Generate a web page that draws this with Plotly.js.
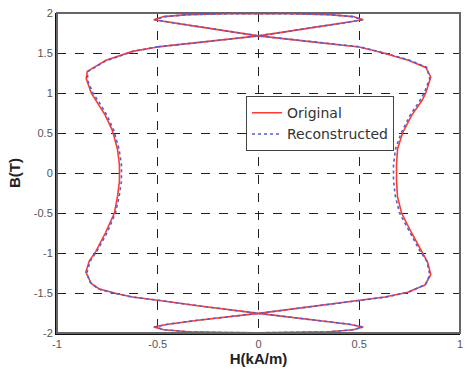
<!DOCTYPE html>
<html>
<head>
<meta charset="utf-8">
<script src="https://cdn.plot.ly/plotly-3.0.1.min.js"></script>
<style>html,body{margin:0;padding:0;background:#fff;}#chart{width:465px;height:371px;}</style>
</head>
<body>
<div id="chart"></div>
<script>
// Original curve (H in kA/m, B in T), closed loop
const origH = [-0.5,-0.625,-0.757,-0.85,-0.855,-0.83,-0.8,-0.76,-0.725,-0.7,-0.69,-0.69,-0.7,-0.715,-0.76,-0.807,-0.84,-0.857,-0.83,-0.79,-0.7,-0.625,-0.5,-0.3,0,0.3,0.45,0.52,0.47,0.35,0.15,0,-0.15,-0.35,-0.47,-0.52,-0.45,-0.3,0,0.3,0.5,0.627,0.74,0.826,0.855,0.84,0.81,0.76,0.71,0.69,0.685,0.685,0.69,0.715,0.76,0.81,0.83,0.855,0.83,0.743,0.62,0.5,0.3,0,-0.3,-0.45,-0.52,-0.47,-0.35,-0.15,0,0.15,0.35,0.47,0.52,0.45,0.3,0,-0.3,-0.5];
const origB = [1.576,1.52,1.41,1.27,1.18,1.0,0.88,0.72,0.53,0.3,0.1,-0.1,-0.3,-0.5,-0.75,-0.98,-1.1,-1.24,-1.38,-1.45,-1.51,-1.55,-1.59,-1.66,-1.755,-1.84,-1.89,-1.925,-1.96,-1.985,-1.995,-1.997,-1.995,-1.985,-1.96,-1.925,-1.89,-1.84,-1.755,-1.66,-1.59,-1.55,-1.49,-1.4,-1.27,-1.12,-0.98,-0.75,-0.5,-0.3,-0.1,0.1,0.3,0.5,0.72,0.9,1.0,1.2,1.32,1.41,1.5,1.576,1.63,1.714,1.83,1.885,1.915,1.955,1.98,1.99,1.992,1.99,1.98,1.955,1.915,1.885,1.83,1.714,1.63,1.576];
// Reconstructed curve
const recH = [-0.5,-0.62,-0.76,-0.845,-0.85,-0.82,-0.79,-0.752,-0.718,-0.692,-0.68,-0.68,-0.692,-0.71,-0.752,-0.8,-0.835,-0.852,-0.835,-0.795,-0.705,-0.63,-0.5,-0.3,0,0.3,0.45,0.515,0.465,0.35,0.15,0,-0.15,-0.35,-0.465,-0.515,-0.45,-0.3,0,0.3,0.5,0.63,0.745,0.83,0.85,0.835,0.8,0.752,0.7,0.68,0.67,0.67,0.68,0.708,0.752,0.8,0.822,0.85,0.835,0.75,0.625,0.5,0.3,0,-0.3,-0.45,-0.515,-0.465,-0.35,-0.15,0,0.15,0.35,0.465,0.515,0.45,0.3,0,-0.3,-0.5];
const recB = [1.578,1.522,1.4,1.27,1.17,0.99,0.88,0.72,0.53,0.3,0.1,-0.1,-0.3,-0.5,-0.75,-0.97,-1.1,-1.25,-1.37,-1.45,-1.51,-1.55,-1.59,-1.66,-1.755,-1.84,-1.89,-1.925,-1.96,-1.985,-1.995,-1.997,-1.995,-1.985,-1.96,-1.925,-1.89,-1.84,-1.755,-1.66,-1.59,-1.552,-1.49,-1.39,-1.27,-1.1,-0.97,-0.75,-0.5,-0.3,-0.1,0.1,0.3,0.5,0.72,0.9,1.0,1.18,1.32,1.41,1.5,1.578,1.63,1.714,1.83,1.885,1.915,1.955,1.98,1.99,1.992,1.99,1.98,1.955,1.915,1.885,1.83,1.714,1.63,1.578];
const xTicks = [-1,-0.5,0,0.5,1];
const xTickText = ['-1','-0.5','0','0.5','1'];
const yTicks = [-2,-1.5,-1,-0.5,0,0.5,1,1.5,2];
const yTickText = ['-2','-1.5','-1','-0.5','0','0.5','1','1.5','2'];

const traces = [
  {x: origH, y: origB, type: 'scatter', mode: 'lines', name: 'Original',
   line: {color: '#ff3b2f', width: 1.6}},
  {x: recH, y: recB, type: 'scatter', mode: 'lines', name: 'Reconstructed',
   line: {color: '#4f5fd8', width: 1.6, dash: 'dot'}}
];
const layout = {
  width: 465, height: 371,
  margin: {l: 57, r: 5, t: 13, b: 38},
  paper_bgcolor: '#fff', plot_bgcolor: '#fff',
  showlegend: true,
  font: {family: 'Arial, Liberation Sans, sans-serif', color: '#555', size: 11},
  xaxis: {
    range: [-1, 1], tickvals: xTicks, ticktext: xTickText,
    showgrid: true, gridcolor: '#222', griddash: 'dash', gridwidth: 1,
    zeroline: false, showline: true, linecolor: '#111', linewidth: 2,
    ticks: '', tickfont: {size: 11, color: '#555'},
    title: {text: 'H(kA/m)', font: {size: 15, color: '#222', weight: 'bold'}, standoff: 4}
  },
  yaxis: {
    range: [-2, 2], tickvals: yTicks, ticktext: yTickText,
    showgrid: true, gridcolor: '#222', griddash: 'dash', gridwidth: 1,
    zeroline: false, showline: true, linecolor: '#111', linewidth: 2,
    ticks: '', tickfont: {size: 11, color: '#555'},
    title: {text: 'B(T)', font: {size: 15, color: '#222', weight: 'bold'}, standoff: 10}
  },
  legend: {
    x: 0.469, y: 0.74, xanchor: 'left', yanchor: 'top',
    bgcolor: '#fff', bordercolor: '#444', borderwidth: 1,
    font: {size: 14, color: '#333', family: 'DejaVu Sans, Verdana, sans-serif'},
    tracegroupgap: 0, itemwidth: 30
  },
  shapes: [
    {type: 'rect', xref: 'paper', yref: 'paper', x0: 0, x1: 1, y0: 0, y1: 1,
     line: {color: '#666', width: 2}, fillcolor: 'rgba(0,0,0,0)', layer: 'above'}
  ]
};
Plotly.newPlot('chart', traces, layout, {displayModeBar: false, staticPlot: true});
</script>
</body>
</html>
